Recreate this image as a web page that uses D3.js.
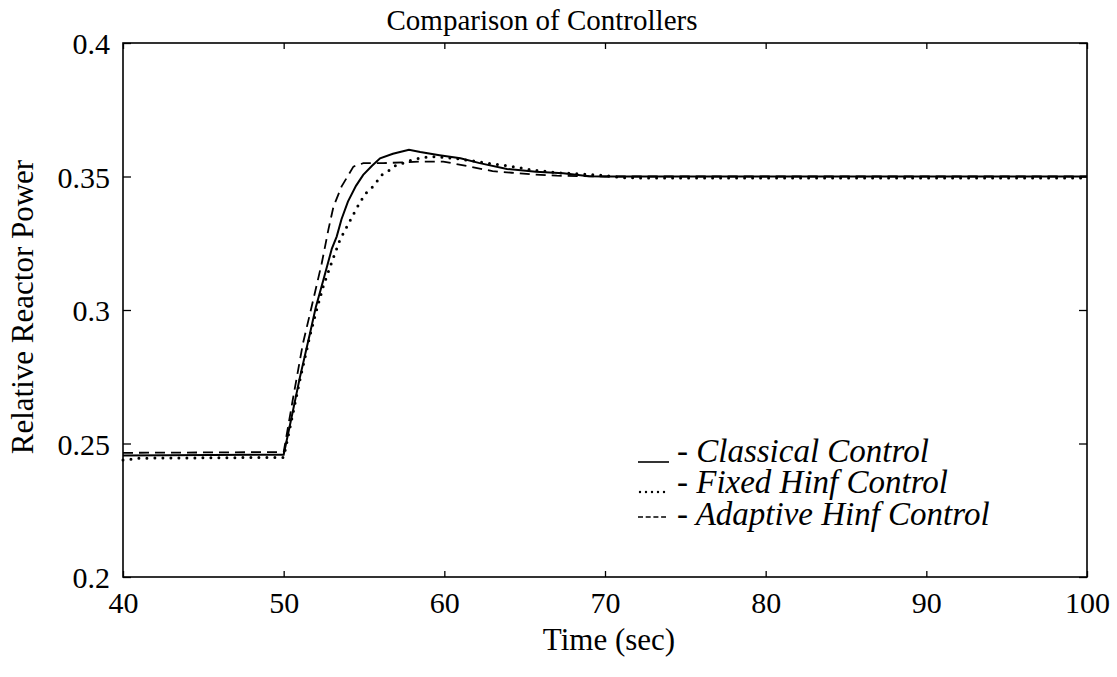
<html>
<script src='https://d3js.org/d3.v7.min.js'></script>
<style>
body { margin: 0; background: white; }
</style>
<body>
<svg width=1117 height=677></svg>
<script>
// classical control (solid)
const classicalTime = [40, 50, 50.5, 51, 51.64, 52, 52.47, 53, 53.3, 53.6, 54, 54.5, 54.95, 55.5, 56, 56.8, 57.8, 58.5, 59.7, 61, 62.2, 63.9, 65.7, 67.4, 69, 70, 100];
const classicalPower = [0.2455, 0.2458, 0.260, 0.2745, 0.2913, 0.301, 0.3112, 0.323, 0.3275, 0.334, 0.3406, 0.3465, 0.3506, 0.354, 0.3568, 0.3585, 0.3600, 0.3592, 0.358, 0.3568, 0.355, 0.3528, 0.3518, 0.3512, 0.3501, 0.3500, 0.3500];

// fixed Hinf control (dotted)
const fixedTime = [40, 41, 50, 50.5, 51, 51.64, 52.05, 52.47, 53, 53.5, 54.02, 54.54, 55.06, 55.58, 56.1, 56.6, 57, 57.55, 58.07, 59.1, 60, 61, 63.05, 64.6, 65.5, 67.1, 69, 70.1, 71, 73, 100];
const fixedPower = [0.2438, 0.2445, 0.2448, 0.259, 0.2735, 0.2905, 0.300, 0.309, 0.318, 0.3262, 0.3322, 0.3381, 0.3434, 0.3464, 0.3506, 0.3524, 0.3543, 0.3552, 0.3564, 0.3575, 0.3572, 0.3565, 0.3547, 0.3534, 0.3524, 0.3514, 0.3508, 0.3503, 0.3496, 0.3494, 0.3494];

// adaptive Hinf control (dashed)
const adaptiveTime = [40, 50, 50.6, 51.2, 51.74, 52.37, 52.78, 53.1, 53.6, 54.34, 54.96, 56.2, 58.5, 59.93, 61.6, 63, 64.2, 65.5, 67, 70, 100];
const adaptivePower = [0.2465, 0.2468, 0.2675, 0.2875, 0.3012, 0.3175, 0.330, 0.3387, 0.3462, 0.3537, 0.355, 0.355, 0.3556, 0.3556, 0.3537, 0.352, 0.3514, 0.3508, 0.3503, 0.3500, 0.3500];

const xTicks = [40, 50, 60, 70, 80, 90, 100];
const yTicks = [0.2, 0.25, 0.3, 0.35, 0.4];
const legendNames = ["- Classical Control", "- Fixed Hinf Control", "- Adaptive Hinf Control"];

const serif = "'Liberation Serif', 'Times New Roman', Tinos, serif";
const svg = d3.select("svg");
const mLeft = 123, mRight = 1087, mTop = 43, mBottom = 577;

var x = d3.scaleLinear().domain([40, 100]).range([mLeft, mRight]);
var y = d3.scaleLinear().domain([0.2, 0.4]).range([mBottom, mTop]);

// axes, ticks pointing in
const xAxis = svg.append("g")
    .attr("transform", "translate(0," + mBottom + ")")
    .call(d3.axisBottom(x).tickValues(xTicks).tickSize(-6).tickPadding(15).tickFormat(d3.format("d")));
const xTop = svg.append("g")
    .attr("transform", "translate(0," + mTop + ")")
    .call(d3.axisTop(x).tickValues(xTicks).tickSize(-6).tickFormat(""));
const yAxis = svg.append("g")
    .attr("transform", "translate(" + mLeft + ",0)")
    .call(d3.axisLeft(y).tickValues(yTicks).tickSize(-8).tickPadding(13).tickFormat(d => String(+d.toFixed(2))));
const yRight = svg.append("g")
    .attr("transform", "translate(" + mRight + ",0)")
    .call(d3.axisRight(y).tickValues(yTicks).tickSize(-8).tickFormat(""));

[xAxis, xTop, yAxis, yRight].forEach(a => {
    a.attr("font-family", serif).attr("font-size", 30);
    a.select(".domain").remove();
    a.selectAll("line").attr("stroke", "black").attr("stroke-width", 1.3);
    a.selectAll("text").attr("font-family", serif).attr("font-size", 30).attr("fill", "black");
});
yAxis.selectAll("text").attr("dy", "0.36em");

svg.append("rect")
    .attr("x", mLeft).attr("y", mTop)
    .attr("width", mRight - mLeft).attr("height", mBottom - mTop)
    .attr("fill", "none").attr("stroke", "black").attr("stroke-width", 1.6);

// curves
const line = d3.line().x(d => x(d[0])).y(d => y(d[1]));

svg.append("path")
    .datum(d3.zip(classicalTime, classicalPower))
    .attr("d", line)
    .attr("fill", "none").attr("stroke", "black").attr("stroke-width", 2);

svg.append("path")
    .datum(d3.zip(fixedTime, fixedPower))
    .attr("d", line)
    .attr("fill", "none").attr("stroke", "black").attr("stroke-width", 3)
    .attr("stroke-linecap", "round").attr("stroke-dasharray", "0,8");

svg.append("path")
    .datum(d3.zip(adaptiveTime, adaptivePower))
    .attr("d", line)
    .attr("fill", "none").attr("stroke", "black").attr("stroke-width", 1.8)
    .attr("stroke-dasharray", "10,6");

// labels
svg.append("text")
    .attr("x", 542).attr("y", 30)
    .attr("text-anchor", "middle")
    .attr("font-family", serif).attr("font-size", 29)
    .text("Comparison of Controllers");

svg.append("text")
    .attr("x", 609).attr("y", 650)
    .attr("text-anchor", "middle")
    .attr("font-family", serif).attr("font-size", 31)
    .text("Time (sec)");

svg.append("text")
    .attr("transform", "translate(33,307) rotate(-90)")
    .attr("text-anchor", "middle")
    .attr("font-family", serif).attr("font-size", 31)
    .text("Relative Reactor Power");

// legend
const rowY = [462, 493, 525];
svg.append("line")
    .attr("x1", 638).attr("x2", 669).attr("y1", rowY[0]).attr("y2", rowY[0])
    .attr("stroke", "black").attr("stroke-width", 1.6);
svg.append("line")
    .attr("x1", 640).attr("x2", 668).attr("y1", rowY[1] - 1).attr("y2", rowY[1] - 1)
    .attr("stroke", "black").attr("stroke-width", 2.4)
    .attr("stroke-linecap", "round").attr("stroke-dasharray", "0,6");
svg.append("line")
    .attr("x1", 638).attr("x2", 666).attr("y1", rowY[2] - 8).attr("y2", rowY[2] - 8)
    .attr("stroke", "black").attr("stroke-width", 1.6)
    .attr("stroke-dasharray", "5,2.7");

svg.selectAll(".legend")
    .data(legendNames)
    .enter()
    .append("text")
    .attr("class", "legend")
    .attr("x", 677)
    .attr("y", (d, i) => rowY[i])
    .attr("font-family", serif).attr("font-size", 33)
    .attr("font-style", "italic")
    .text(d => d);
</script>
</body>
</html>
